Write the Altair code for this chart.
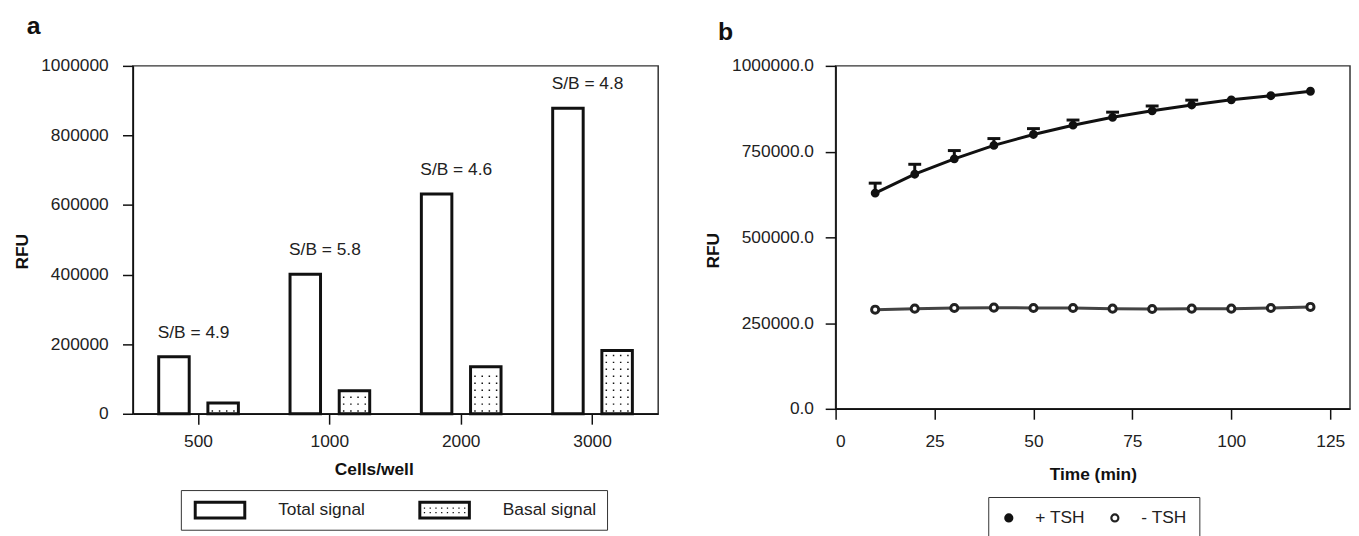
import altair as alt
import pandas as pd
import numpy as np

# ---------------- Panel a data ----------------
cells = ["500", "1000", "2000", "3000"]
total_signal = [164000, 401000, 632000, 878000]
basal_signal = [31000, 66000, 135000, 182000]
sb_labels = ["S/B = 4.9", "S/B = 5.8", "S/B = 4.6", "S/B = 4.8"]
series_a = ["Total signal", "Basal signal"]
ticks_a = [0, 200000, 400000, 600000, 800000, 1000000]

# ---------------- Panel b data ----------------
time_min = [10, 20, 30, 40, 50, 60, 70, 80, 90, 100, 110, 120]
plus_tsh = [629000, 684000, 729000, 768000, 800000, 827000, 850000, 869000, 886000, 901000, 913000, 926000]
plus_err = [29000, 29000, 24000, 20000, 17000, 15000, 15000, 14000, 14000, 0, 0, 0]
minus_tsh = [289000, 292000, 294000, 295000, 294000, 294000, 292000, 291000, 292000, 292000, 294000, 297000]
series_b = ["+ TSH", "- TSH"]
ticks_b_y = [0, 250000, 500000, 750000, 1000000]
ticks_b_x = [0, 25, 50, 75, 100, 125]

FONT = "Liberation Sans"
FS = 17.5

# ---------- tables ----------
df_bars = pd.DataFrame(
    [{"cells": c, "series": "Total signal", "rfu": t} for c, t in zip(cells, total_signal)]
    + [{"cells": c, "series": "Basal signal", "rfu": b} for c, b in zip(cells, basal_signal)]
)
df_lab = pd.DataFrame({"cells": cells, "rfu": total_signal, "label": sb_labels})

# stipple texture rows inside the basal bars (fill pattern, derived from basal values)
dot_rows = []
for c, b in zip(cells, basal_signal):
    for lvl in np.arange(7700, b - 14000, 20000):
        dot_rows.append({"cells": c, "series": "Basal signal", "lvl": float(lvl)})
df_dots = pd.DataFrame(dot_rows)

df_leg_a = pd.DataFrame({"series": series_a})

df_b = pd.DataFrame(
    [{"t": t, "series": "+ TSH", "rfu": v, "up": v + e, "err": e} for t, v, e in zip(time_min, plus_tsh, plus_err)]
    + [{"t": t, "series": "- TSH", "rfu": v, "up": v, "err": 0} for t, v in zip(time_min, minus_tsh)]
)

# ---------- symbol paths (style only) ----------
ROW_PATH = " ".join(
    f"M{x - 0.75:.2f},-0.75h1.5v1.5h-1.5z" for x in (-10.9, -3.6, 3.6, 10.9)
)
FRAME = "M-2.65,-0.95H2.65V0.95H-2.65Z M-2.35,-0.65V0.65H2.35V-0.65Z"
leg_dots = []
for yy in (-0.2, 0.25):
    for xx in (-2.03, -1.45, -0.87, -0.29, 0.29, 0.87, 1.45, 2.03):
        leg_dots.append(f"M{xx - 0.065:.3f},{yy - 0.065:.3f}h0.13v0.13h-0.13z")
FRAME_DOTS = FRAME + " " + " ".join(leg_dots)

# ---------------- Panel a ----------------
x_a = alt.X(
    "cells:N",
    sort=cells,
    scale=alt.Scale(domain=cells, paddingInner=0, paddingOuter=0),
    axis=alt.Axis(title="Cells/well", labelAngle=0, labelPadding=8.7, titlePadding=11, titleX=243),
)
xoff_a = alt.XOffset("series:N", scale=alt.Scale(domain=series_a, paddingInner=0.38, paddingOuter=0.525))
y_scale_a = alt.Scale(domain=[0, 1000000], nice=False)
y_axis_a = alt.Axis(title="RFU", values=ticks_a, format="d", labelPadding=14.4, titlePadding=9, titleY=187)

bars = alt.Chart(df_bars).mark_bar(fill="white", stroke="#111", strokeWidth=3).encode(
    x=x_a, xOffset=xoff_a, y=alt.Y("rfu:Q", scale=y_scale_a, axis=y_axis_a)
)
dots = alt.Chart(df_dots).mark_point(
    shape=ROW_PATH, size=4, filled=True, fill="#111", strokeWidth=0, opacity=1
).encode(x=alt.X("cells:N", sort=cells), xOffset="series:N", y=alt.Y("lvl:Q"))
labels = alt.Chart(df_lab).mark_text(
    fontSize=FS, font=FONT, color="#222", dx=-5, dy=-24, baseline="middle"
).encode(x=alt.X("cells:N", sort=cells), y=alt.Y("rfu:Q"), text="label:N")
legend_a = alt.Chart(df_leg_a).mark_point(filled=True, color="#111", opacity=1, strokeWidth=0).encode(
    shape=alt.Shape(
        "series:N",
        scale=alt.Scale(domain=series_a, range=[FRAME, FRAME_DOTS]),
        legend=alt.Legend(
            orient="none", legendX=48.4, legendY=428, direction="horizontal", title=None,
            symbolSize=400, symbolStrokeWidth=0, symbolFillColor="#111", symbolOpacity=1,
            symbolOffset=19.5,
            labelFontSize=FS, labelFont=FONT, labelColor="#222", labelOffset=48.7,
            columnPadding=50.6, padding=10, strokeColor="#333",
        ),
    )
).transform_filter("false")

panel_a = alt.layer(bars, dots, labels, legend_a).properties(
    width=530, height=351,
    title=alt.TitleParams("a", anchor="start", frame="bounds", fontSize=25, fontWeight="bold",
                          font=FONT, color="#111", dx=13, offset=18),
)

# ---------------- Panel b ----------------
x_b = alt.X("t:Q", scale=alt.Scale(domain=[0, 130], nice=False),
            axis=alt.Axis(title="Time (min)", values=ticks_b_x, format="d", labelPadding=13.5, titlePadding=15.5))
y_b = alt.Y("rfu:Q", scale=alt.Scale(domain=[0, 1000000], nice=False),
            axis=alt.Axis(title="RFU", values=ticks_b_y, format=".1f", labelPadding=11.8, titlePadding=9.6, titleY=186))

base_b = alt.Chart(df_b)
line_plus = base_b.transform_filter(alt.datum.series == "+ TSH").mark_line(color="#111", strokeWidth=3).encode(x=x_b, y=y_b)
line_minus = base_b.transform_filter(alt.datum.series == "- TSH").mark_line(color="#444", strokeWidth=3).encode(x="t:Q", y="rfu:Q")
err_rule = base_b.transform_filter("datum.err > 0").mark_rule(color="#111", strokeWidth=3).encode(
    x="t:Q", y="rfu:Q", y2="up:Q")
err_cap = base_b.transform_filter("datum.err > 0").mark_tick(
    orient="horizontal", color="#111", thickness=3, size=13, opacity=1).encode(x="t:Q", y="up:Q")
# legends of concatenated views are placed relative to the first panel's plot origin
leg_b = alt.Legend(
    orient="none", legendX=863, legendY=435, direction="horizontal", title=None,
    symbolSize=50, symbolStrokeWidth=2.2, symbolOpacity=1,
    labelFontSize=FS, labelFont=FONT, labelColor="#222", labelOffset=18,
    columnPadding=21, padding=12, strokeColor="#333",
)
fill_b = alt.Fill("series:N", scale=alt.Scale(domain=series_b, range=["#111", "white"]), legend=leg_b)
stroke_b = alt.Stroke("series:N", scale=alt.Scale(domain=series_b, range=["#111", "#222"]), legend=leg_b)
pts_plus = base_b.transform_filter(alt.datum.series == "+ TSH").mark_point(
    shape="circle", size=48, strokeWidth=2, opacity=1).encode(x="t:Q", y="rfu:Q", fill=fill_b, stroke=stroke_b)
pts_minus = base_b.transform_filter(alt.datum.series == "- TSH").mark_point(
    shape="circle", size=52, strokeWidth=3, opacity=1).encode(x="t:Q", y="rfu:Q", fill=fill_b, stroke=stroke_b)

panel_b = alt.layer(line_minus, line_plus, err_rule, err_cap, pts_plus, pts_minus).properties(
    width=519, height=346,
    title=alt.TitleParams("b", anchor="start", frame="bounds", fontSize=25, fontWeight="bold",
                          font=FONT, color="#111", dx=14, dy=6, offset=18),
)

chart = alt.hconcat(panel_a, panel_b, spacing=44).properties(
    padding={"left": 5, "top": 3, "right": 0, "bottom": 0}
).configure(background="white").configure_view(stroke="#333", strokeWidth=1.5).configure_axis(
    domainColor="#111", domainWidth=1.5, tickColor="#111", tickWidth=1.5, tickSize=10.5,
    labelFont=FONT, labelFontSize=FS, labelColor="#222",
    titleFont=FONT, titleFontSize=FS, titleFontWeight="bold", titleColor="#111", grid=False,
)

chart.save("out.html", embed_options={"renderer": "svg", "actions": False})
